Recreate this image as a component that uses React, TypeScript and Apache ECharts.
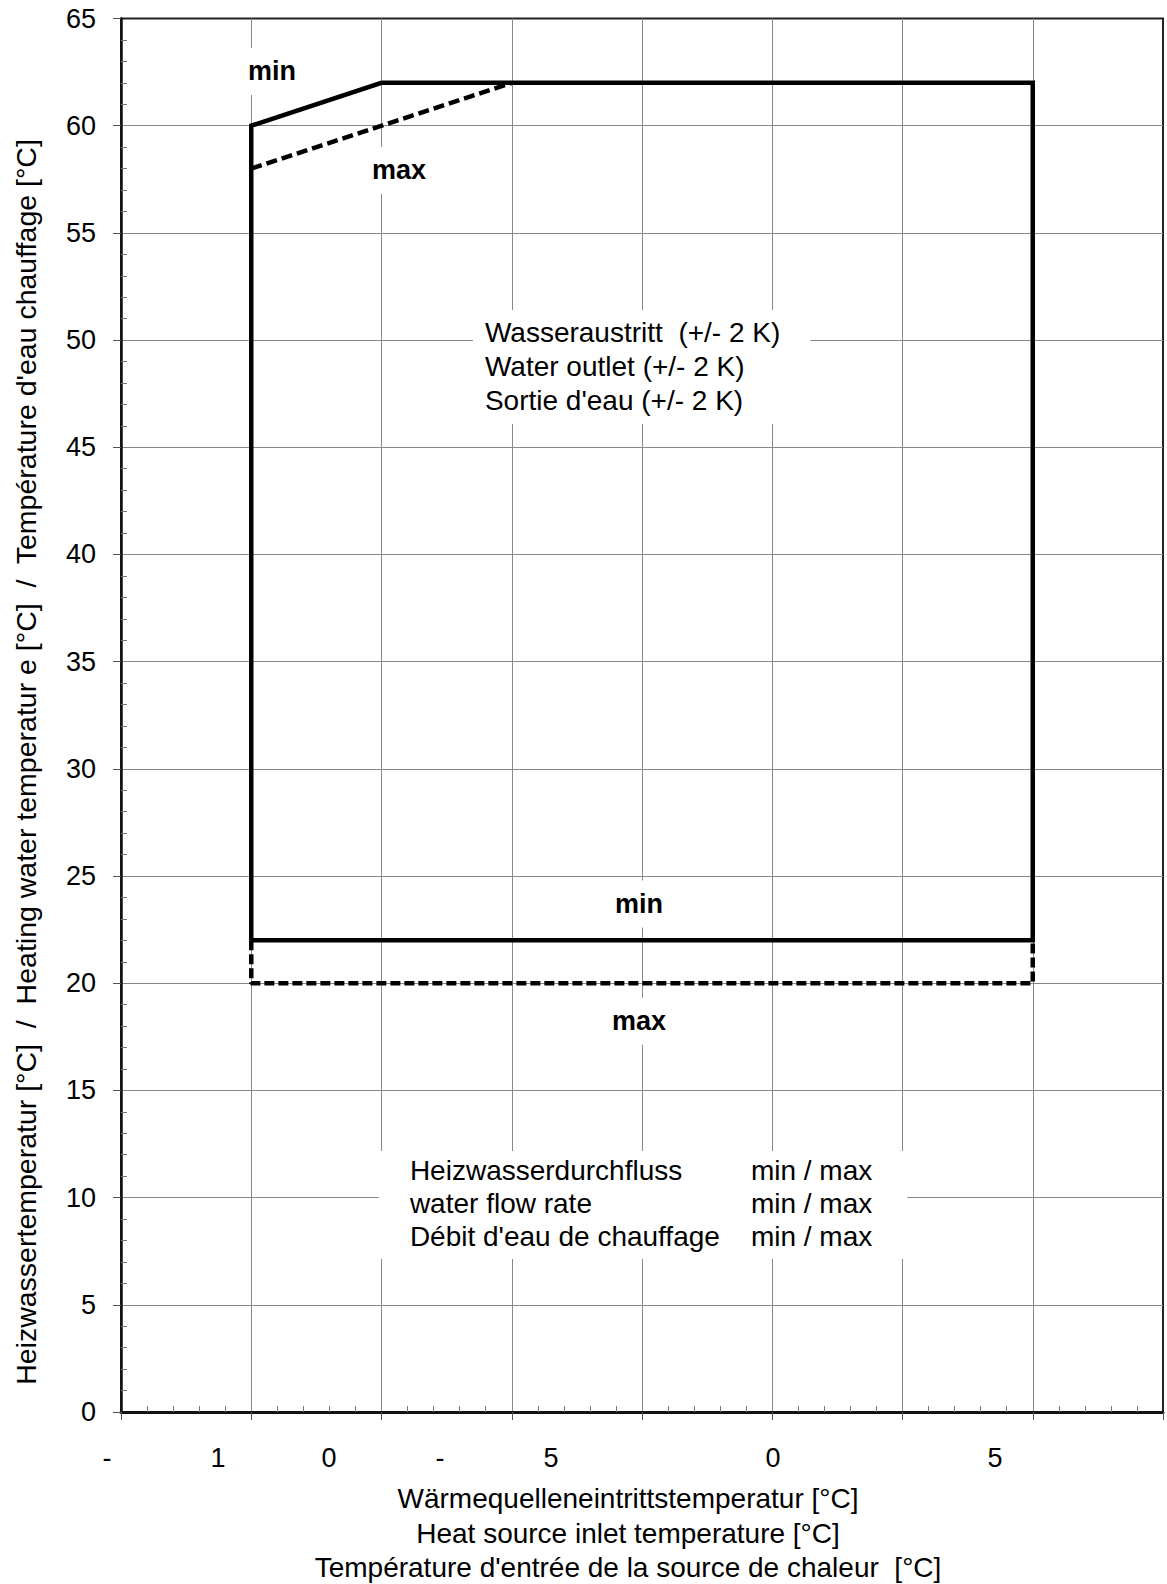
import React, { useEffect, useRef } from "react";
import * as echarts from "echarts";

// Axis ranges
const xMin = -10;
const xMax = 30;
const xStep = 5;
const yMin = 0;
const yMax = 65;
const yStep = 5;

// Tick labels as printed (partly illegible in the original scan)
const xTickLabels = ["-", "1", "0", "-", "5", "", "0", "", "5"];

// Operating envelope – minimum water flow (solid)
const minEnvelopeX = [-5, -5, 0, 25, 25, -5];
const minEnvelopeY = [22, 60, 62, 62, 22, 22];

// Operating envelope – maximum water flow (dashed)
const maxTopX = [-5, 5];
const maxTopY = [58, 62];
const maxBottomX = [-5, -5, 25, 25];
const maxBottomY = [22, 20, 20, 22];

// Annotation texts
const noteMinTop = "min";
const noteMaxTop = "max";
const noteMinBottom = "min";
const noteMaxBottom = "max";
const outletLines = ["Wasseraustritt  (+/- 2 K)", "Water outlet (+/- 2 K)", "Sortie d'eau (+/- 2 K)"];
const flowLabels = ["Heizwasserdurchfluss", "water flow rate", "Débit d'eau de chauffage"];
const flowValues = ["min / max", "min / max", "min / max"];

const yTitle =
  "Heizwassertemperatur [°C]  /  Heating water temperatur e [°C]  /  Température d'eau chauffage [°C]";
const xTitleLines = [
  "Wärmequelleneintrittstemperatur [°C]",
  "Heat source inlet temperature [°C]",
  "Température d'entrée de la source de chaleur  [°C]",
];

const FONT = '"Liberation Sans", Arial, sans-serif';
const INK = "#000";

const zip = (xs: number[], ys: number[]) => xs.map((x, i) => [x, ys[i]]);

export default function App() {
  const ref = useRef<HTMLDivElement>(null);

  useEffect(() => {
    if (!ref.current) return;
    const chart = echarts.init(ref.current, null, { renderer: "svg" });

    const boldLabel = (text: string) => ({
      show: true,
      position: "inside",
      formatter: text,
      fontSize: 27,
      fontWeight: "bold",
      fontFamily: FONT,
      color: INK,
      opacity: 1,
      textBorderWidth: 0,
      backgroundColor: "#fff",
      padding: [10, 10],
    });

    const option: any = {
      animation: false,
      backgroundColor: "#fff",
      textStyle: { fontFamily: FONT },
      grid: [
        {
          left: 121,
          right: 4,
          top: 18.5,
          bottom: 172,
          show: true,
          borderColor: "#222",
          borderWidth: 2,
          backgroundColor: "transparent",
        },
        { left: 107, width: 888, top: 18.5, bottom: 172 },
      ],
      xAxis: [
        {
          type: "value",
          gridIndex: 0,
          min: xMin,
          max: xMax,
          interval: xStep,
          position: "bottom",
          axisLine: { show: true, onZero: false, lineStyle: { color: "#111", width: 3 } },
          axisTick: { show: true, length: 8, lineStyle: { color: "#555", width: 1 } },
          axisLabel: { show: false },
          splitLine: {
            show: true,
            showMinLine: false,
            showMaxLine: false,
            lineStyle: { color: "#888", width: 1 },
          },
        },
        {
          type: "value",
          gridIndex: 0,
          min: xMin,
          max: xMax,
          interval: xStep,
          position: "bottom",
          offset: 0,
          axisLine: { show: false, onZero: false },
          axisTick: { show: false, inside: true },
          minorTick: { show: true, splitNumber: 5, length: 6, lineStyle: { color: "#777", width: 1 } },
          axisLabel: { show: false },
          splitLine: { show: false },
        },
        {
          type: "category",
          gridIndex: 1,
          data: xTickLabels,
          boundaryGap: false,
          position: "bottom",
          axisLine: { show: false },
          axisTick: { show: false },
          splitLine: { show: false },
          axisLabel: {
            show: true,
            interval: 0,
            fontSize: 27,
            fontFamily: FONT,
            color: INK,
            margin: 32,
          },
        },
      ],
      yAxis: [
        {
          type: "value",
          gridIndex: 0,
          min: yMin,
          max: yMax,
          interval: yStep,
          position: "left",
          axisLine: { show: true, onZero: false, lineStyle: { color: "#111", width: 2.5 } },
          axisTick: { show: true, length: 8, lineStyle: { color: "#555", width: 1 } },
          axisLabel: { show: true, fontSize: 27, fontFamily: FONT, color: INK, margin: 25 },
          splitLine: {
            show: true,
            showMinLine: false,
            showMaxLine: false,
            lineStyle: { color: "#888", width: 1 },
          },
        },
        {
          type: "value",
          gridIndex: 0,
          min: yMin,
          max: yMax,
          interval: yStep,
          position: "left",
          offset: 0,
          axisLine: { show: false, onZero: false },
          axisTick: { show: false, inside: true },
          minorTick: { show: true, splitNumber: 5, length: 6, lineStyle: { color: "#777", width: 1 } },
          axisLabel: { show: false },
          splitLine: { show: false },
        },
        { type: "value", gridIndex: 1, show: false, min: 0, max: 1 },
      ],
      series: [
        {
          type: "line",
          name: "min",
          xAxisIndex: 0,
          yAxisIndex: 0,
          data: zip(minEnvelopeX, minEnvelopeY),
          symbol: "none",
          lineStyle: { color: "#000", width: 4.5, join: "miter" },
          z: 5,
        },
        {
          type: "line",
          name: "max top",
          xAxisIndex: 0,
          yAxisIndex: 0,
          data: zip(maxTopX, maxTopY),
          symbol: "none",
          lineStyle: { color: "#000", width: 4.5, type: [11, 5] },
          z: 5,
        },
        {
          type: "line",
          name: "max bottom",
          xAxisIndex: 0,
          yAxisIndex: 0,
          data: zip(maxBottomX, maxBottomY),
          symbol: "none",
          lineStyle: { color: "#000", width: 4.5, type: [10, 4] },
          z: 5,
        },
        {
          type: "scatter",
          name: "notes",
          xAxisIndex: 0,
          yAxisIndex: 0,
          symbolSize: 0,
          silent: true,
          itemStyle: { opacity: 1 },
          emphasis: { disabled: true },
          z: 10,
          data: [
            { value: [-4.2, 62.53], label: boldLabel(noteMinTop) },
            { value: [0.67, 57.91], label: boldLabel(noteMaxTop) },
            { value: [9.885, 23.69], label: boldLabel(noteMinBottom) },
            { value: [9.885, 18.23], label: boldLabel(noteMaxBottom) },
            {
              value: [3.51, 48.75],
              label: {
                show: true,
                position: "inside",
                formatter: outletLines.join("\n"),
                fontSize: 28,
                lineHeight: 34,
                align: "left",
                verticalAlign: "middle",
                fontFamily: FONT,
                color: INK,
                opacity: 1,
                textBorderWidth: 0,
                backgroundColor: "#fff",
                padding: [6, 30, 6, 12],
              },
            },
            {
              value: [-0.1, 9.65],
              label: {
                show: true,
                position: "inside",
                formatter: flowLabels.map((l, i) => `{a|${l}}{b|${flowValues[i]}}`).join("\n"),
                align: "left",
                verticalAlign: "middle",
                lineHeight: 33,
                fontSize: 28,
                fontFamily: FONT,
                color: INK,
                opacity: 1,
                textBorderWidth: 0,
                backgroundColor: "#fff",
                padding: [3, 35, 6, 31],
                rich: {
                  a: { width: 341, align: "left", fontSize: 28, lineHeight: 33, fontFamily: FONT, color: INK },
                  b: { align: "left", fontSize: 28, lineHeight: 33, fontFamily: FONT, color: INK },
                },
              },
            },
          ],
        },
      ],
      graphic: [
        {
          type: "text",
          x: 26,
          y: 762,
          rotation: Math.PI / 2,
          style: {
            text: yTitle,
            fontSize: 28.5,
            fontFamily: FONT,
            fill: INK,
            align: "center",
            verticalAlign: "middle",
          },
        },
        {
          type: "text",
          x: 628,
          y: 1533,
          style: {
            text: xTitleLines.join("\n"),
            fontSize: 28,
            lineHeight: 34.5,
            fontFamily: FONT,
            fill: INK,
            align: "center",
            verticalAlign: "middle",
          },
        },
      ],
    };

    chart.setOption(option);
    return () => chart.dispose();
  }, []);

  return (
    <div
      ref={ref}
      style={{ position: "absolute", left: 0, top: 0, width: 1167, height: 1584 }}
    />
  );
}
